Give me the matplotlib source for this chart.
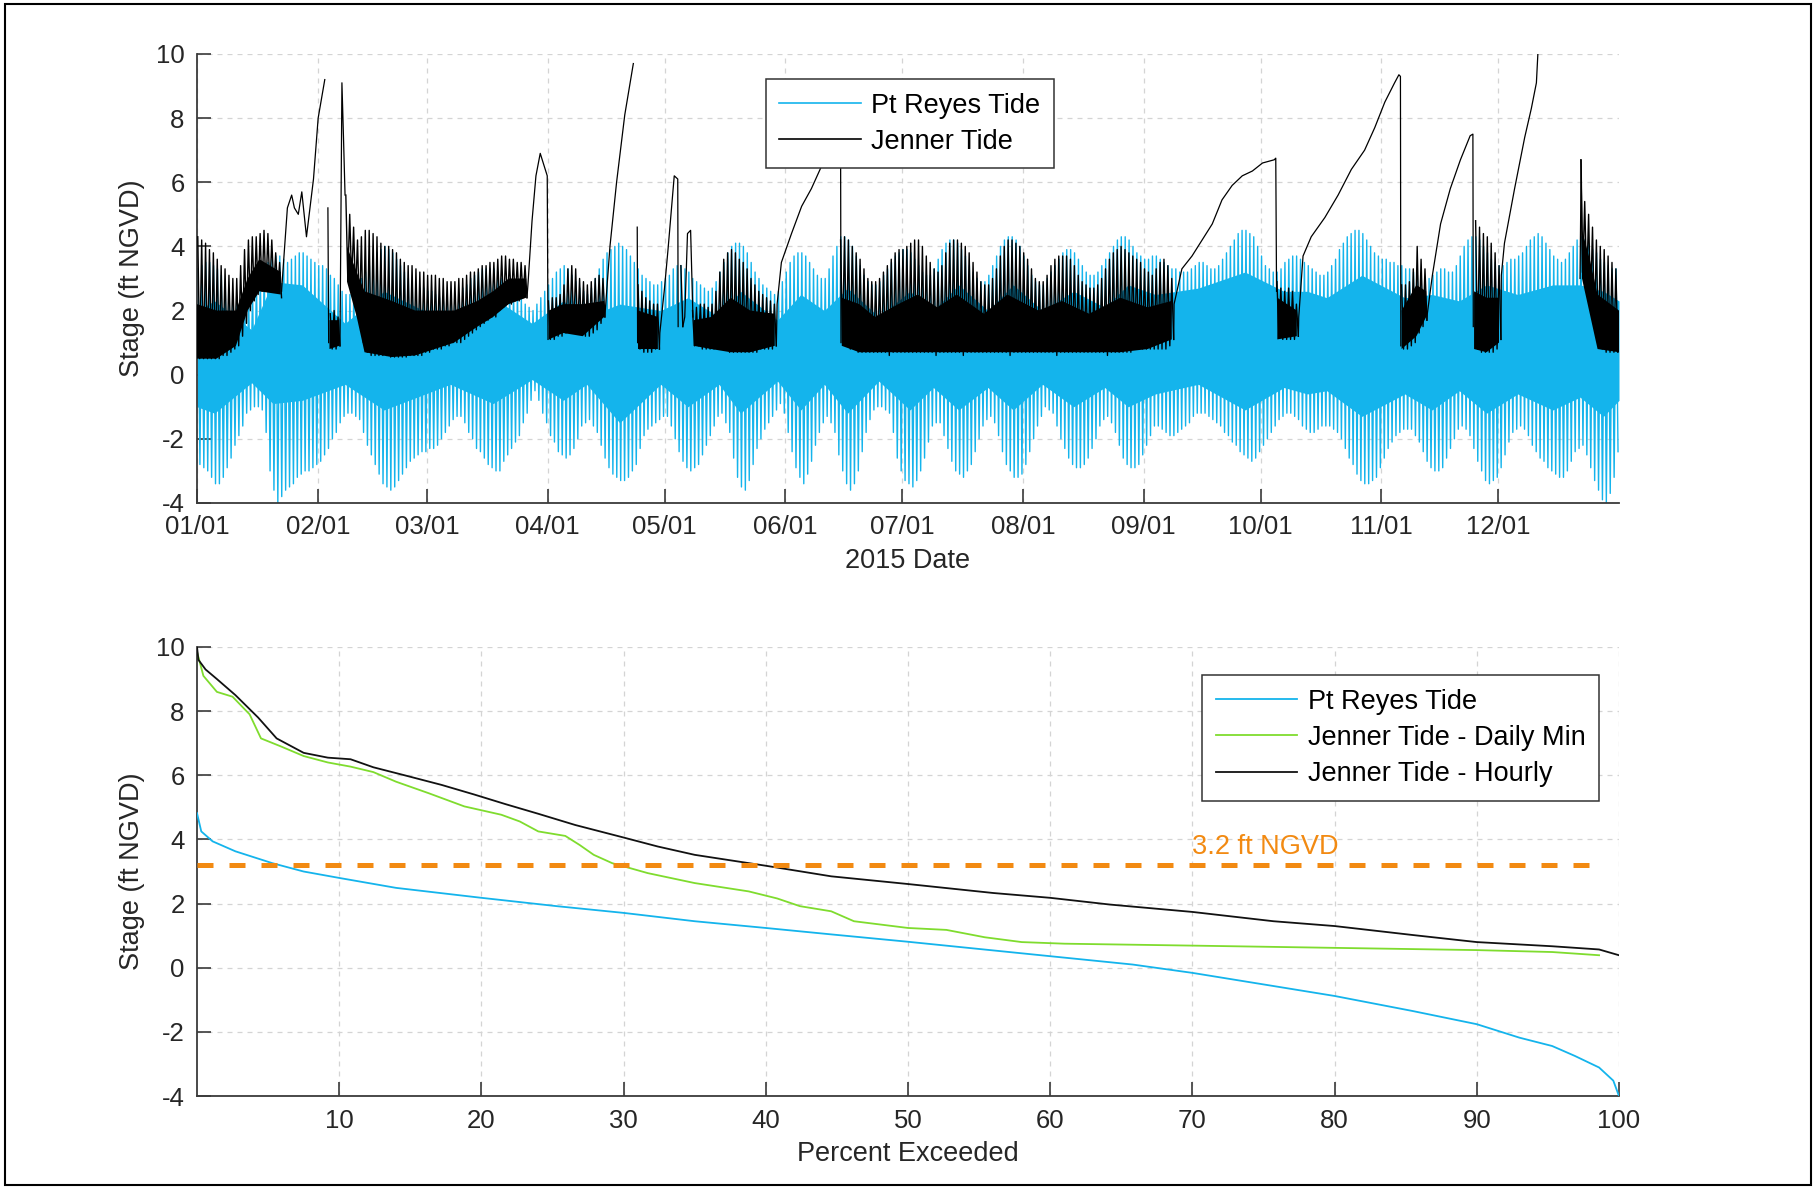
import numpy as np
import matplotlib
matplotlib.use("Agg")
import matplotlib.pyplot as plt
from matplotlib.lines import Line2D
from matplotlib.patches import Rectangle

plt.rcParams['font.family'] = ['Liberation Sans', 'DejaVu Sans']
plt.rcParams['axes.unicode_minus'] = False

nan = float('nan')

# ---------------- top panel data (2015, day of year) ----------------
month_ticks = [0, 31, 59, 90, 120, 151, 181, 212, 243, 273, 304, 334]
month_labels = ["01/01", "02/01", "03/01", "04/01", "05/01", "06/01",
                "07/01", "08/01", "09/01", "10/01", "11/01", "12/01"]

# Pt Reyes tide: daily higher-high and lower-low (ft NGVD)
pr_high = [3.3, 3.4, 3.5, 3.5, 3.4, 3.3, 3.1, 2.9, 2.7, 2.5, 2.3,
           2.2, 2.2, 2.4, 2.6, 2.9, 3.1, 3.3, 3.5, 3.6, 3.7,
           3.7, 3.6, 3.5, 3.6, 3.7, 3.8, 3.8, 3.7, 3.6, 3.5,
           3.4, 3.4, 3.3, 3.1, 3.0, 2.8, 2.6, 2.5, 2.5, 2.6,
           2.8, 3.0, 3.2, 3.4, 3.6, 3.8, 3.9, 4.0, 3.9, 3.8,
           3.6, 3.4, 3.2, 3.0, 2.9, 2.8, 2.7, 2.7, 2.6, 2.6,
           2.5, 2.4, 2.3, 2.3, 2.2, 2.3, 2.5, 2.7, 2.8, 3.0,
           3.1, 3.2, 3.3, 3.3, 3.3, 3.3, 3.2, 3.0, 2.9, 2.8,
           2.7, 2.6, 2.4, 2.2, 2.1, 2.0, 2.2, 2.4, 2.6, 2.8,
           3.0, 3.2, 3.3, 3.4, 3.3, 3.1, 2.9, 2.7, 2.6, 2.5,
           2.7, 3.0, 3.3, 3.6, 3.8, 3.9, 4.0, 4.1, 4.0, 3.9,
           3.7, 3.5, 3.3, 3.1, 3.0, 2.9, 2.8, 2.8, 2.9, 3.0,
           3.1, 3.3, 3.4, 3.4, 3.3, 3.2, 3.0, 2.9, 2.8, 2.7,
           2.6, 2.7, 2.9, 3.2, 3.5, 3.8, 4.0, 4.1, 4.1, 4.0,
           3.8, 3.5, 3.2, 3.0, 2.8, 2.7, 2.6, 2.5, 2.6, 2.9,
           3.2, 3.5, 3.7, 3.8, 3.8, 3.7, 3.5, 3.3, 3.1, 3.0,
           3.0, 3.3, 3.7, 4.0, 4.3, 4.3, 4.2, 4.0, 3.7, 3.4,
           3.1, 2.9, 2.8, 2.8, 2.9, 3.1, 3.3, 3.5, 3.7, 3.8,
           3.9, 3.9, 3.8, 3.6, 3.4, 3.2, 3.1, 3.1, 3.3, 3.6,
           3.9, 4.1, 4.2, 4.2, 4.1, 3.9, 3.7, 3.4, 3.2, 3.0,
           2.9, 2.9, 3.1, 3.4, 3.7, 4.0, 4.2, 4.3, 4.3, 4.2,
           4.0, 3.7, 3.4, 3.1, 2.9, 2.8, 2.8, 3.0, 3.2, 3.4,
           3.6, 3.8, 3.9, 3.9, 3.8, 3.6, 3.4, 3.2, 3.1, 3.1,
           3.2, 3.4, 3.6, 3.8, 4.0, 4.2, 4.3, 4.3, 4.2, 4.0,
           3.8, 3.7, 3.6, 3.6, 3.7, 3.7, 3.6, 3.5, 3.4, 3.3,
           3.3, 3.2, 3.2, 3.2, 3.3, 3.4, 3.5, 3.5, 3.4, 3.3,
           3.3, 3.4, 3.6, 3.8, 4.0, 4.2, 4.4, 4.5, 4.5, 4.4,
           4.3, 4.0, 3.7, 3.4, 3.3, 3.2, 3.2, 3.3, 3.5, 3.6,
           3.7, 3.7, 3.6, 3.5, 3.4, 3.3, 3.2, 3.1, 3.1, 3.2,
           3.4, 3.6, 3.9, 4.1, 4.3, 4.4, 4.5, 4.5, 4.4, 4.2,
           4.0, 3.8, 3.7, 3.6, 3.6, 3.5, 3.5, 3.4, 3.4, 3.3,
           3.3, 3.2, 3.1, 3.1, 3.0, 3.0, 3.1, 3.2, 3.3, 3.3,
           3.2, 3.2, 3.4, 3.7, 4.0, 4.2, 4.3, 4.3, 4.2, 4.0,
           3.8, 3.6, 3.5, 3.4, 3.4, 3.5, 3.6, 3.6, 3.7, 3.8,
           4.0, 4.2, 4.3, 4.4, 4.3, 4.1, 3.9, 3.7, 3.6, 3.5,
           3.6, 3.8, 4.0, 4.2, 4.3, 4.2, 4.1, 3.9, 3.8, 3.6,
           3.5, 3.4, 3.3, 3.3]
pr_low = [-2.8, -2.9, -3.0, -3.2, -3.4, -3.4, -3.2, -2.9, -2.6, -2.2, -1.9,
          -1.6, -1.2, -1.1, -1.0, -1.0, -1.1, -1.8, -3.0, -3.6, -4.0,
          -3.8, -3.6, -3.5, -3.4, -3.2, -3.1, -3.0, -3.0, -2.9, -2.8,
          -2.7, -2.5, -2.3, -2.0, -1.8, -1.5, -1.3, -1.2, -1.2, -1.3,
          -1.4, -1.8, -2.2, -2.5, -2.8, -3.1, -3.4, -3.5, -3.6, -3.5,
          -3.3, -3.1, -2.9, -2.7, -2.6, -2.5, -2.4, -2.4, -2.3, -2.3,
          -2.2, -2.0, -1.8, -1.6, -1.4, -1.3, -1.3, -1.5, -1.8, -2.0,
          -2.3, -2.4, -2.6, -2.8, -2.9, -3.0, -3.0, -2.7, -2.5, -2.3,
          -2.1, -1.9, -1.5, -1.2, -0.8, -0.5, -0.8, -1.2, -1.5, -1.9,
          -2.1, -2.4, -2.5, -2.6, -2.5, -2.3, -2.0, -1.6, -1.5, -1.4,
          -1.6, -1.8, -2.2, -2.6, -2.9, -3.1, -3.2, -3.3, -3.3, -3.2,
          -3.0, -2.8, -2.3, -1.9, -1.7, -1.6, -1.5, -1.4, -1.3, -1.3,
          -1.6, -2.0, -2.4, -2.7, -2.9, -3.0, -2.9, -2.8, -2.5, -2.2,
          -1.9, -1.6, -1.3, -1.2, -1.5, -1.8, -2.6, -3.2, -3.5, -3.6,
          -3.3, -2.8, -2.3, -2.0, -1.7, -1.5, -1.3, -1.1, -0.9, -1.2,
          -1.8, -2.4, -2.9, -3.2, -3.4, -3.1, -2.7, -2.2, -1.8, -1.5,
          -1.3, -1.5, -1.8, -2.5, -3.0, -3.4, -3.6, -3.4, -3.0, -2.4,
          -1.8, -1.4, -1.1, -1.0, -1.0, -1.1, -1.2, -1.8, -2.6, -3.0,
          -3.3, -3.4, -3.5, -3.3, -3.0, -2.6, -2.1, -1.6, -1.5, -1.5,
          -1.9, -2.3, -2.7, -3.0, -3.1, -3.2, -3.0, -2.8, -2.4, -2.0,
          -1.6, -1.4, -1.3, -1.5, -1.9, -2.4, -2.8, -3.0, -3.2, -3.2,
          -3.1, -2.8, -2.4, -2.0, -1.6, -1.3, -1.0, -1.1, -1.2, -1.6,
          -2.0, -2.3, -2.6, -2.8, -2.9, -2.9, -2.8, -2.6, -2.3, -2.0,
          -1.6, -1.4, -1.3, -1.5, -1.8, -2.2, -2.6, -2.8, -2.9, -2.9,
          -2.8, -2.5, -2.2, -1.9, -1.6, -1.6, -1.7, -1.8, -1.9, -1.9,
          -1.8, -1.7, -1.6, -1.5, -1.3, -1.2, -1.2, -1.2, -1.3, -1.4,
          -1.5, -1.6, -1.8, -1.9, -2.1, -2.2, -2.4, -2.5, -2.6, -2.7,
          -2.6, -2.4, -2.2, -2.0, -1.8, -1.6, -1.4, -1.3, -1.2, -1.2,
          -1.3, -1.4, -1.6, -1.7, -1.8, -1.8, -1.7, -1.6, -1.6, -1.6,
          -1.7, -1.8, -2.0, -2.3, -2.6, -2.8, -3.1, -3.3, -3.4, -3.4,
          -3.3, -3.2, -2.9, -2.6, -2.3, -2.1, -1.9, -1.8, -1.7, -1.7,
          -1.7, -1.9, -2.1, -2.4, -2.7, -2.9, -3.0, -3.0, -2.9, -2.6,
          -2.3, -2.0, -1.7, -1.6, -1.7, -1.9, -2.3, -2.7, -3.0, -3.3,
          -3.4, -3.3, -3.2, -2.9, -2.5, -2.1, -1.8, -1.7, -1.6, -1.7,
          -1.9, -2.2, -2.4, -2.6, -2.7, -2.9, -3.0, -3.1, -3.2, -3.2,
          -3.0, -2.7, -2.4, -2.3, -2.2, -2.5, -2.9, -3.3, -3.6, -3.9,
          -4.0, -3.7, -3.2, -2.4]

# Pt Reyes dense core band (read at spring / neap points)
pr_core_day = [0, 4.5, 14, 19.5, 27, 38, 48, 65, 76, 86,
               94, 100, 108.5, 119, 126, 134, 139.5, 149, 155, 161,
               167, 175, 183, 189, 195.5, 203, 209.5, 217, 225, 233,
               239, 246, 257, 269, 279, 285, 290, 299, 310, 317,
               324, 331, 339, 348, 355, 361, 365]
pr_core_lo = [-1.0, -1.2, -0.25, -0.9, -0.8, -0.3, -1.1, -0.3, -0.9, -0.15,
              -0.8, -0.3, -1.5, -0.3, -1.0, -0.3, -1.2, -0.2, -1.1, -0.3,
              -1.2, -0.2, -1.1, -0.4, -1.1, -0.4, -1.1, -0.3, -1.0, -0.4,
              -1.0, -0.6, -0.3, -1.1, -0.4, -0.6, -0.5, -1.3, -0.6, -1.1,
              -0.5, -1.2, -0.6, -1.1, -0.7, -1.3, -0.8]
pr_core_hi = [2.0, 2.3, 1.4, 2.9, 2.8, 1.6, 2.6, 1.6, 2.4, 1.6,
              2.3, 1.8, 2.2, 2.0, 2.4, 1.8, 2.6, 1.7, 2.5, 2.0,
              2.7, 1.8, 2.6, 2.0, 2.8, 2.0, 2.8, 2.0, 2.6, 2.1,
              2.8, 2.5, 2.7, 3.2, 2.6, 2.6, 2.4, 3.1, 2.4, 2.5,
              2.3, 2.8, 2.5, 2.8, 2.8, 2.6, 2.3]

# Jenner tide, days with the river mouth open: daily high and low
jen_open_days = (list(range(0, 22)) + [34, 35, 36] + list(range(38, 85)) +
                 list(range(90, 105)) + list(range(113, 119)) + [124] +
                 list(range(127, 149)) + list(range(165, 251)) +
                 list(range(277, 283)) + list(range(309, 316)) +
                 list(range(328, 335)) + list(range(355, 365)))
jen_high = [4.3, 4.2, 4.1, 3.9, 3.8, 3.6, 3.4, 3.3, 3.1, 3.0, 3.0, 3.4, 3.9, 4.2,
            4.3, 4.3, 4.4, 4.5, 4.4, 4.2, 3.8, 3.5,
            1.9, 2.0, 1.8,
            5.6, 5.0, 4.6, 4.2, 4.3, 4.5, 4.5, 4.4, 4.3, 4.1, 4.0, 4.0, 3.9, 3.8,
            3.6, 3.5, 3.4, 3.4, 3.3, 3.2, 3.2, 3.1, 3.1,
            3.1, 3.0, 3.0, 2.9, 2.9, 2.9, 3.0, 3.0, 3.1, 3.2, 3.2, 3.3, 3.4, 3.4,
            3.5, 3.5,
            3.6, 3.7, 3.7, 3.6, 3.6, 3.5, 3.5, 3.4,
            2.3, 2.4, 2.4, 2.5, 2.8, 3.3, 3.4, 3.3, 3.0, 2.9, 2.8, 2.9, 3.0, 3.1, 3.0,
            2.8, 2.6, 2.4, 2.3, 2.2, 2.2,
            3.4,
            2.0, 2.1, 2.2, 2.2, 2.1, 2.2, 2.6, 3.2, 3.6, 3.8, 3.9, 3.8, 3.6, 3.5,
            3.3, 3.0, 2.8, 2.6, 2.5, 2.4, 2.3, 2.2,
            4.2, 4.3, 4.2, 4.0, 3.8, 3.6, 3.3, 3.0, 2.9, 2.9,
            3.0, 3.2, 3.4, 3.6, 3.8, 3.9, 3.9, 4.0, 4.1, 4.2,
            4.2, 4.0, 3.7, 3.5, 3.3, 3.2, 3.4, 3.8, 4.1, 4.2,
            4.2, 4.1, 4.0, 3.8, 3.5, 3.2, 2.9, 2.8, 2.8, 3.0,
            3.3, 3.7, 4.0, 4.2, 4.2, 4.1, 4.0, 3.8, 3.6, 3.3,
            3.0, 2.9, 2.9, 3.1, 3.4, 3.6, 3.7, 3.7, 3.7, 3.6,
            3.4, 3.1, 2.9, 2.8, 2.7, 2.7, 2.8, 3.0, 3.3, 3.6,
            3.8, 3.9, 4.0, 3.9, 3.8, 3.7, 3.6, 3.5, 3.3, 3.2,
            3.1, 3.3, 3.5, 3.6, 3.4, 3.0,
            2.9, 2.7, 2.6, 2.7, 2.6, 2.2,
            2.8, 2.8, 2.9, 3.3, 4.0, 3.6, 3.3,
            4.8, 4.6, 4.4, 4.3, 4.1, 3.8, 3.4,
            6.7, 5.4, 5.0, 4.6, 4.2, 4.0, 3.9, 3.7, 3.5, 3.3]
jen_low = [0.5, 0.5, 0.5, 0.5, 0.5, 0.5, 0.6, 0.6, 0.7, 0.8, 0.9, 1.2, 1.6, 2.0,
           2.3, 2.5, 2.6, 2.6, 2.7, 2.7, 2.6, 2.4,
           0.8, 0.8, 0.9,
           3.0, 2.9, 2.5, 1.8, 1.0, 0.7, 0.6, 0.6, 0.6, 0.6, 0.6, 0.55, 0.55, 0.55,
           0.55, 0.55, 0.6, 0.6, 0.6, 0.6, 0.7, 0.7, 0.8,
           0.8, 0.8, 0.9, 0.9, 1.0, 1.0, 1.0, 1.1, 1.2, 1.3, 1.4, 1.5, 1.6, 1.7,
           1.8, 1.8,
           2.0, 2.1, 2.2, 2.2, 2.3, 2.3, 2.4, 2.4,
           1.1, 1.1, 1.2, 1.2, 1.3, 1.4, 1.4, 1.3, 1.3, 1.2, 1.2, 1.3, 1.4, 1.6, 1.8,
           0.8, 0.7, 0.7, 0.7, 0.8, 0.8,
           1.5,
           0.9, 0.9, 0.8, 0.8, 0.8, 0.8, 0.8, 0.8, 0.8, 0.7, 0.7, 0.7, 0.7, 0.7,
           0.7, 0.7, 0.7, 0.8, 0.8, 0.8, 0.8, 0.9,
           1.0, 0.9, 0.8, 0.8, 0.7, 0.7, 0.7, 0.7, 0.7, 0.7,
           0.7, 0.7, 0.6, 0.7, 0.7, 0.7, 0.7, 0.7, 0.7, 0.7,
           0.7, 0.7, 0.7, 0.7, 0.6, 0.7, 0.7, 0.7, 0.7, 0.7,
           0.7, 0.6, 0.7, 0.7, 0.7, 0.7, 0.7, 0.7, 0.7, 0.7,
           0.7, 0.7, 0.7, 0.6, 0.7, 0.7, 0.7, 0.7, 0.7, 0.7,
           0.7, 0.7, 0.7, 0.7, 0.7, 0.6, 0.7, 0.7, 0.7, 0.7,
           0.7, 0.7, 0.7, 0.7, 0.7, 0.7, 0.7, 0.7, 0.6, 0.7,
           0.7, 0.7, 0.7, 0.7, 0.7, 0.8, 0.8, 0.8, 0.8, 0.8,
           0.8, 0.8, 0.8, 0.8, 0.9, 1.1,
           1.2, 1.1, 1.1, 1.1, 1.1, 1.2,
           0.8, 0.8, 0.9, 1.0, 1.3, 1.5, 1.7,
           0.8, 0.7, 0.7, 0.7, 0.7, 0.8, 1.1,
           3.2, 2.8, 2.2, 1.5, 1.0, 0.8, 0.7, 0.7, 0.7, 0.7]

# Jenner dense band while the mouth is open (nan separates periods)
jen_core_day = [0, 5, 10, 13, 16, 21.5, nan, 34, 36.5, nan,
                38.5, 41, 43, 50, 56, 61, 66, 72, 76, 80, 84.5, nan,
                90.3, 94, 99, 104.5, nan, 113.2, 118.3, nan,
                127.5, 132, 137, 142, 148.3, nan,
                165.5, 170, 174, 180, 185, 190, 195, 202, 208, 216, 222, 229, 237,
                244, 250.2, nan, 277.3, 282.3, nan, 309.2, 313, 315.5, nan,
                327.8, 331, 334.2, nan, 355.5, 357.5, 359.5, 365]
jen_core_lo = [0.5, 0.5, 0.9, 2.0, 2.6, 2.5, nan, 0.8, 0.9, nan,
               2.9, 1.8, 0.7, 0.55, 0.6, 0.8, 1.0, 1.5, 1.8, 2.2, 2.4, nan,
               1.1, 1.3, 1.2, 1.8, nan, 0.8, 0.8, nan,
               0.9, 0.8, 0.7, 0.7, 0.9, nan,
               0.9, 0.7, 0.7, 0.7, 0.7, 0.7, 0.7, 0.7, 0.7, 0.7, 0.7, 0.7, 0.7,
               0.8, 1.1, nan, 1.1, 1.2, nan, 0.8, 1.2, 1.8, nan,
               0.8, 0.7, 1.0, nan, 3.0, 1.9, 0.8, 0.7]
jen_core_hi = [2.2, 2.0, 2.0, 3.0, 3.6, 3.2, nan, 1.7, 1.7, nan,
               4.0, 3.2, 2.6, 2.3, 2.0, 2.0, 2.0, 2.3, 2.6, 3.0, 3.0, nan,
               2.0, 2.2, 2.2, 2.3, nan, 2.0, 1.8, nan,
               1.7, 1.8, 2.4, 2.0, 1.9, nan,
               2.4, 2.2, 1.8, 2.2, 2.5, 2.1, 2.5, 1.9, 2.5, 2.0, 2.3, 1.9, 2.4,
               2.1, 2.3, nan, 2.4, 2.0, nan, 2.0, 2.8, 2.6, nan,
               2.6, 2.4, 2.4, nan, 4.5, 3.6, 2.5, 2.0]

# Jenner stage while the mouth is closed (smooth rises, nan = break)
jen_line_day = [21.7, 22.5, 23.2, 24.3, 25.0, 26.0, 26.9, 28.1, 29.0, 29.9, 31.1, 32.8, nan,
                33.6, 33.8, nan,
                36.7, 37.2, 37.6, 38.0, nan,
                84.7, 85.0, 86.0, 87.0, 88.1, 89.9, 90.1, nan,
                104.7, 104.8, 106.0, 107.7, 109.8, 112.0, nan,
                113.0, 113.1, nan,
                118.7, 118.8, 120.0, 120.9, 122.5, 123.4, 123.5, nan,
                124.7, 125.2, 125.9, 126.7, 127.3, nan,
                148.7, 148.9, 150.0, 152.6, 155.2, 157.7, 160.3, 162.0, 164.0, 165.2, 165.3, nan,
                250.7, 250.8, 252.8, 255.4, 258.0, 260.6, 263.1, 265.7, 268.3, 270.9,
                273.5, 276.5, 276.9, 277.1, nan,
                282.7, 282.8, 283.9, 286.0, 289.5, 292.9, 296.3, 299.7, 302.3, 304.9,
                307.4, 308.5, 308.9, 309.0, nan,
                315.7, 315.8, 317.1, 319.2, 321.7, 324.3, 326.8, 327.5, 327.6, nan,
                334.7, 334.8, 335.6, 338.2, 340.8, 342.5, 343.8, 344.3, nan,
                355.0, 355.3, 355.6]
jen_line_stage = [2.6, 4.0, 5.2, 5.6, 5.2, 5.0, 5.7, 4.3, 5.2, 6.1, 8.0, 9.2, nan,
                  5.2, 1.0, nan,
                  0.9, 9.1, 7.4, 5.6, nan,
                  2.4, 2.9, 4.8, 6.2, 6.9, 6.2, 1.1, nan,
                  1.8, 2.0, 4.0, 6.0, 8.1, 9.7, nan,
                  4.6, 1.0, nan,
                  0.8, 1.3, 2.7, 3.9, 6.2, 6.1, 1.5, nan,
                  1.5, 1.8, 4.4, 4.5, 1.8, nan,
                  0.9, 2.2, 3.5, 4.4, 5.25, 5.8, 6.5, 6.8, 7.0, 7.1, 1.0, nan,
                  1.1, 2.2, 3.3, 3.7, 4.2, 4.7, 5.45, 5.9, 6.2, 6.35,
                  6.6, 6.7, 6.75, 2.6, nan,
                  1.2, 1.8, 3.7, 4.3, 4.9, 5.6, 6.4, 7.0, 7.7, 8.5,
                  9.1, 9.35, 9.3, 0.9, nan,
                  1.7, 1.9, 3.1, 4.7, 5.8, 6.7, 7.45, 7.5, 1.5, nan,
                  1.1, 3.1, 4.1, 5.8, 7.4, 8.3, 9.1, 10.3, nan,
                  3.0, 6.7, 3.2]

# ---------------- bottom panel data (exceedance curves) ----------------
pr_exc_pct = [0, 0.3, 1.1, 2.7, 5.3, 7.5, 10, 14, 20, 25.3, 30, 35, 40, 44.6, 50,
              56, 60, 65.8, 70, 75.7, 80, 85.5, 90, 93, 95.3, 96.9, 98.6, 99.6, 100]
pr_exc_val = [4.82, 4.25, 3.94, 3.63, 3.26, 3.0, 2.8, 2.49, 2.18, 1.92, 1.71, 1.45,
              1.24, 1.04, 0.81, 0.54, 0.36, 0.10, -0.16, -0.57, -0.88, -1.35, -1.76,
              -2.18, -2.44, -2.75, -3.11, -3.52, -4.0]
jd_exc_pct = [0, 0.45, 1.4, 2.5, 3.7, 4.5, 5.9, 7.5, 9.2, 10.8, 12.4, 14, 16.3, 18.8,
              21.4, 22.7, 24, 25.9, 26.9, 27.9, 29.2, 30.5, 31.7, 35, 38.8, 40.8,
              42.4, 44.6, 46.2, 50, 52.7, 55.4, 58, 61, 70, 80, 90, 95.3, 98.6]
jd_exc_val = [9.85, 9.1, 8.6, 8.45, 7.9, 7.15, 6.9, 6.6, 6.4, 6.27, 6.1, 5.8, 5.44,
              5.03, 4.77, 4.56, 4.25, 4.11, 3.83, 3.52, 3.26, 3.1, 2.95, 2.64, 2.38,
              2.16, 1.92, 1.76, 1.45, 1.24, 1.18, 0.95, 0.80, 0.75, 0.69, 0.62,
              0.55, 0.49, 0.39]
jh_exc_pct = [0, 0.1, 0.6, 1.4, 2.7, 4.3, 5.6, 7.5, 9.2, 10.8, 12.4, 14.6, 17.2, 19.5,
              21.7, 24, 26.6, 30, 32.4, 35, 40, 44.6, 50, 56, 60, 64.2, 70, 75.7, 80,
              85.5, 90, 95.3, 98.6, 100]
jh_exc_val = [10.0, 9.6, 9.3, 9.0, 8.5, 7.8, 7.15, 6.7, 6.55, 6.5, 6.25, 6.0, 5.7,
              5.4, 5.1, 4.8, 4.45, 4.06, 3.78, 3.52, 3.18, 2.85, 2.61, 2.33, 2.18,
              1.97, 1.74, 1.45, 1.30, 1.02, 0.80, 0.67, 0.57, 0.39]
threshold = 3.2
threshold_end_pct = 98.8

# ---------------- styling ----------------
BLUE = '#14B4EC'
BLACK = '#000000'
GREEN = '#7FDC2E'
ORANGE = '#F28A12'
AXC = '#3a3a3a'
GRIDC = '#d4d4d4'

fig = plt.figure(figsize=(18.14, 11.88), dpi=100)
fig.patches.append(Rectangle((0.0028, 0.0025), 0.9955, 0.9945, transform=fig.transFigure,
                             fill=False, edgecolor='black', linewidth=1.5))

ax1 = fig.add_axes([0.1086, 0.5766, 0.7839, 0.378])
ax2 = fig.add_axes([0.1086, 0.0774, 0.7839, 0.378])


def style_axis(ax):
    for s in ['top', 'right']:
        ax.spines[s].set_visible(False)
    for s in ['left', 'bottom']:
        ax.spines[s].set_color(AXC)
        ax.spines[s].set_linewidth(1.3)
    ax.tick_params(direction='in', length=10, width=1.2, color=AXC,
                   labelsize=18.5, labelcolor='#262626', pad=9)
    ax.grid(True, color=GRIDC, linestyle=(0, (4, 4)), linewidth=0.9)
    ax.set_axisbelow(True)
    ax.set_ylim(-4, 10)
    ax.set_yticks(np.arange(-4, 11, 2))


# ---- top panel ----
days = np.arange(365, dtype=float)
pr_x = np.column_stack([days + 0.25, days + 0.75]).ravel()
pr_y = np.column_stack([np.array(pr_high), np.array(pr_low)]).ravel()
ax1.plot(pr_x, pr_y, color=BLUE, linewidth=1.0, zorder=2)
ax1.fill_between(pr_core_day, pr_core_lo, pr_core_hi, color=BLUE, linewidth=0, zorder=2)

jh_full = np.full(365, np.nan)
jl_full = np.full(365, np.nan)
jh_full[jen_open_days] = jen_high
jl_full[jen_open_days] = jen_low
jn_x = np.column_stack([days + 0.2, days + 0.7]).ravel()
jn_y = np.column_stack([jh_full, jl_full]).ravel()
ax1.plot(jn_x, jn_y, color=BLACK, linewidth=1.0, zorder=3)
ax1.fill_between(jen_core_day, jen_core_lo, jen_core_hi, color=BLACK, linewidth=0, zorder=3)
ax1.plot(jen_line_day, jen_line_stage, color=BLACK, linewidth=0.9, zorder=3)

style_axis(ax1)
ax1.set_xlim(0, 365)
ax1.set_xticks(month_ticks)
ax1.set_xticklabels(month_labels)
ax1.set_xlabel('2015 Date', fontsize=19.5, color='#262626', labelpad=6)
ax1.set_ylabel('Stage (ft NGVD)', fontsize=19.5, color='#262626', labelpad=8)

h1 = [Line2D([], [], color=BLUE, linewidth=1.2), Line2D([], [], color=BLACK, linewidth=1.2)]
leg1 = ax1.legend(h1, ['Pt Reyes Tide', 'Jenner Tide'], loc='upper left',
                  bbox_to_anchor=(0.400, 0.944), borderaxespad=0, fontsize=19.5,
                  frameon=True, fancybox=False, framealpha=1, edgecolor='#333333',
                  handlelength=3.0, handletextpad=0.4, borderpad=0.5, labelspacing=0.38)
leg1.get_frame().set_linewidth(1.1)
leg1.set_zorder(10)

# ---- bottom panel ----
ax2.plot(pr_exc_pct, pr_exc_val, color=BLUE, linewidth=1.3, zorder=3, label='Pt Reyes Tide')
ax2.plot(jd_exc_pct, jd_exc_val, color=GREEN, linewidth=1.3, zorder=3,
         label='Jenner Tide - Daily Min')
ax2.plot(jh_exc_pct, jh_exc_val, color='#111111', linewidth=1.3, zorder=3,
         label='Jenner Tide - Hourly')
ax2.plot([0, threshold_end_pct], [threshold, threshold], color=ORANGE, linewidth=3.6,
         dashes=(3.2, 3.2), zorder=4)
ax2.text(70, 3.36, '3.2 ft NGVD', color=ORANGE, fontsize=19.5, ha='left', va='bottom')

style_axis(ax2)
ax2.set_xlim(0, 100)
ax2.set_xticks(np.arange(10, 101, 10))
ax2.set_xlabel('Percent Exceeded', fontsize=19.5, color='#262626', labelpad=6)
ax2.set_ylabel('Stage (ft NGVD)', fontsize=19.5, color='#262626', labelpad=8)

leg2 = ax2.legend(loc='upper left', bbox_to_anchor=(0.7068, 0.9376), borderaxespad=0,
                  fontsize=19.5, frameon=True, fancybox=False, framealpha=1,
                  edgecolor='#333333', handlelength=3.0, handletextpad=0.4,
                  borderpad=0.5, labelspacing=0.38)
leg2.get_frame().set_linewidth(1.1)

fig.savefig('out.png', dpi=100)
